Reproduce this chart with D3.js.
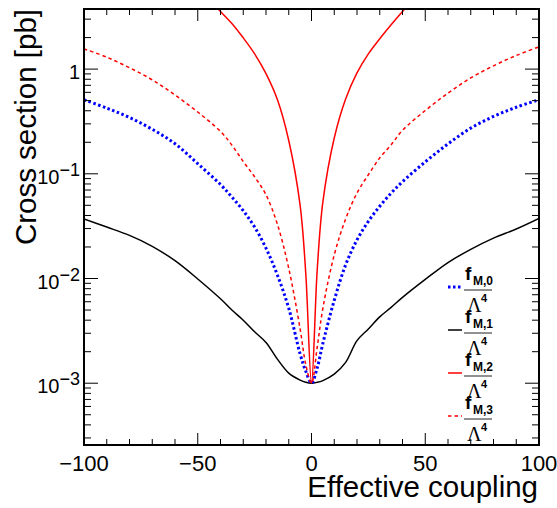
<!DOCTYPE html>
<html>
<head>
<meta charset="utf-8">
<script src="https://cdn.jsdelivr.net/npm/d3@7"></script>
<style>
  body { margin: 0; background: #fff; }
  svg { display: block; font-family: "Liberation Sans", Arial, sans-serif; }
</style>
</head>
<body>
<svg width="557" height="508"></svg>
<script>
// effective coupling values (x) and cross sections in pb
var coupling = [-100, -90, -80, -70, -60, -50, -40, -35, -30, -25, -20, -15, -10, -5, -2.5, 0, 2.5, 5, 10, 15, 20, 25, 30, 35, 40, 50, 60, 70, 80, 90, 100];
var fM0 = [0.51, 0.424, 0.345, 0.266, 0.194, 0.125, 0.079, 0.060, 0.0445, 0.031, 0.0195, 0.0108, 0.0052, 0.0019, 0.0013, 0.001, 0.0014, 0.0024, 0.0062, 0.0135, 0.0234, 0.0352, 0.049, 0.0654, 0.084, 0.13, 0.193, 0.273, 0.353, 0.432, 0.51];
var fM1 = [0.037, 0.031, 0.0258, 0.0203, 0.0148, 0.0099, 0.0064, 0.005, 0.004, 0.0031, 0.00245, 0.0017, 0.00125, 0.00107, 0.00102, 0.001, 0.00102, 0.00106, 0.00122, 0.00158, 0.00255, 0.0033, 0.0043, 0.0053, 0.0066, 0.0098, 0.0142, 0.019, 0.0243, 0.0297, 0.0375];
var fM2 = [null, null, null, null, null, 6.0, 3.55, 2.73, 1.99, 1.40, 0.906, 0.512, 0.208, 0.05, 0.011, 0.001, 0.012, 0.054, 0.22, 0.519, 0.922, 1.40, 1.95, 2.65, 3.55, 6.2, null, null, null, null, null];
var fM3 = [1.56, 1.30, 1.03, 0.79, 0.565, 0.389, 0.254, 0.188, 0.131, 0.0935, 0.063, 0.033, 0.0125, 0.0033, 0.0015, 0.001, 0.0022, 0.0052, 0.0168, 0.037, 0.0655, 0.098, 0.142, 0.189, 0.26, 0.402, 0.59, 0.824, 1.075, 1.35, 1.63];

var xTicksMajor = [-100, -50, 0, 50, 100];
var yDecades = [1e-3, 1e-2, 1e-1, 1];
var yDecadeLabels = [["10", "\u22123"], ["10", "\u22122"], ["10", "\u22121"], ["1", ""]];
var legendSub = ["M,0", "M,1", "M,2", "M,3"];

var series = [
  { vals: fM1, color: "#000", width: 1.5, dash: null },
  { vals: fM0, color: "#0000ff", width: 3, dash: "2.5,2.5" },
  { vals: fM3, color: "#ff0000", width: 1.5, dash: "3.5,3" },
  { vals: fM2, color: "#ff0000", width: 1.5, dash: null }
];
// legend order: M0, M1, M2, M3
var legendOrder = [1, 0, 3, 2];

var fLeft = 84, fRight = 539, fTop = 9, fBottom = 445;

var x = d3.scaleLinear().domain([-100, 100]).range([fLeft, fRight]);
var y = d3.scaleLog().domain([2.57e-4, 3.75]).range([fBottom, fTop]);

var svg = d3.select("svg");

svg.append("clipPath").attr("id", "plotclip")
  .append("rect")
  .attr("x", fLeft).attr("y", fTop)
  .attr("width", fRight - fLeft).attr("height", fBottom - fTop);

var line = d3.line()
  .defined(function (d) { return d[1] != null; })
  .x(function (d) { return x(d[0]); })
  .y(function (d) { return y(d[1]); })
  .curve(d3.curveCatmullRom.alpha(0.5));

var curves = svg.append("g").attr("clip-path", "url(#plotclip)");
series.forEach(function (s) {
  curves.append("path")
    .datum(coupling.map(function (c, i) { return [c, s.vals[i]]; }))
    .attr("d", line)
    .attr("fill", "none")
    .attr("stroke", s.color)
    .attr("stroke-width", s.width)
    .attr("stroke-dasharray", s.dash);
});

// ticks, ROOT style (inside the frame, on all four sides)
var ticks = svg.append("g").attr("stroke", "#000").attr("stroke-width", 1);
x.ticks(20).forEach(function (t) {
  var len = xTicksMajor.indexOf(t) >= 0 ? 12 : 6;
  ticks.append("line").attr("x1", x(t)).attr("x2", x(t)).attr("y1", fBottom).attr("y2", fBottom - len);
  ticks.append("line").attr("x1", x(t)).attr("x2", x(t)).attr("y1", fTop).attr("y2", fTop + len);
});
y.ticks().forEach(function (t) {
  var isMajor = yDecades.some(function (d) { return Math.abs(d - t) / d < 1e-6; });
  var len = isMajor ? 14 : 7;
  ticks.append("line").attr("y1", y(t)).attr("y2", y(t)).attr("x1", fLeft).attr("x2", fLeft + len);
  ticks.append("line").attr("y1", y(t)).attr("y2", y(t)).attr("x1", fRight).attr("x2", fRight - len);
});

// frame
svg.append("rect")
  .attr("x", fLeft).attr("y", fTop)
  .attr("width", fRight - fLeft).attr("height", fBottom - fTop)
  .attr("fill", "none").attr("stroke", "#000").attr("stroke-width", 2);

// x tick labels
xTicksMajor.forEach(function (t) {
  svg.append("text")
    .attr("x", x(t)).attr("y", 471)
    .attr("text-anchor", "middle")
    .attr("font-size", 22)
    .text(t < 0 ? "\u2212" + Math.abs(t) : String(t));
});

// y tick labels
yDecades.forEach(function (d, i) {
  var lab = svg.append("text")
    .attr("x", 80).attr("y", y(d) + 10)
    .attr("text-anchor", "end")
    .attr("font-size", 20);
  lab.append("tspan").text(yDecadeLabels[i][0]);
  if (yDecadeLabels[i][1]) {
    lab.append("tspan").attr("dy", -8).attr("font-size", 18).text(yDecadeLabels[i][1]);
  }
});

// axis titles
svg.append("text")
  .attr("x", 538).attr("y", 497)
  .attr("text-anchor", "end")
  .attr("font-size", 29.5)
  .text("Effective coupling");

svg.append("text")
  .attr("transform", "translate(36," + fTop + ") rotate(-90)")
  .attr("text-anchor", "end")
  .attr("font-size", 29.5)
  .text("Cross section [pb]");

// legend
legendOrder.forEach(function (si, i) {
  var s = series[si];
  var ly = 287 + 43 * i;
  var g = svg.append("g");
  g.append("line")
    .attr("x1", 448).attr("x2", 462).attr("y1", ly).attr("y2", ly)
    .attr("stroke", s.color).attr("stroke-width", s.width)
    .attr("stroke-dasharray", s.dash);
  g.append("text")
    .attr("x", 465).attr("y", ly - 7)
    .attr("font-size", 19).attr("font-weight", "bold")
    .text("f");
  g.append("text")
    .attr("x", 473).attr("y", ly - 2)
    .attr("font-size", 12).attr("font-weight", "bold")
    .text(legendSub[i]);
  g.append("line")
    .attr("x1", 464).attr("x2", 492).attr("y1", ly + 3).attr("y2", ly + 3)
    .attr("stroke", "#222").attr("stroke-width", 1);
  g.append("text")
    .attr("x", 467).attr("y", ly + 25)
    .attr("font-family", "'Liberation Serif', serif")
    .attr("font-size", 20)
    .text("\u039b");
  g.append("text")
    .attr("x", 481).attr("y", ly + 15)
    .attr("font-size", 11).attr("font-weight", "bold")
    .text("4");
});
</script>
</body>
</html>
